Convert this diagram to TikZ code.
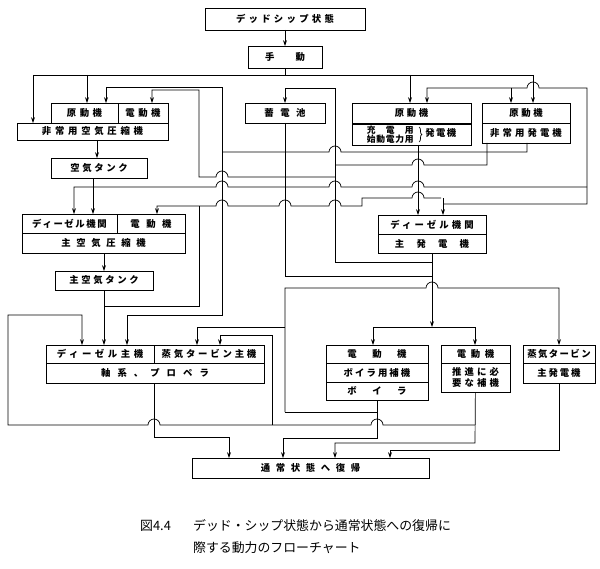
\documentclass[tikz,border=0pt]{standalone}
\usepackage{fontspec}
\setmainfont{Noto Sans CJK JP}
\newfontfamily\boxfont{Noto Sans CJK JP}
\usetikzlibrary{arrows.meta, decorations.pathreplacing}

% box given by its corners, in pixel units of the drawing
\newcommand\cellbox[7][40]{%
  \node[cell, font={\boxfont\bfseries\fontsize{8}{9.6}\selectfont\addfontfeature{LetterSpace=#1}},
    minimum width={(#5-#3)*0.03cm}, minimum height={(#6-#4)*0.03cm}]
    (#2) at ({(#3+#5)/2},{(#4+#6)/2}) {#7};}

\begin{document}
\begin{tikzpicture}[x=0.03cm, y=-0.03cm,
    cell/.style={draw, line width=0.8pt, inner sep=0pt, outer sep=0pt, align=center},
    wire/.style={line width=0.6pt},
    feed/.style={wire, -{Stealth[length=5pt, width=3.4pt]}},
    back/.style={wire, {Stealth[length=5pt, width=3.4pt]}-},
    twoway/.style={wire, {Stealth[length=5pt, width=3.4pt]}-{Stealth[length=5pt, width=3.4pt]}},
    hop/.style={insert path={arc[start angle=180, end angle=0, radius=0.18cm]}}]
  \useasboundingbox (0,0) rectangle (600,568);

  % boxes
  \cellbox[35]{dead}{205}{8}{365}{30}{デッドシップ状態}
  \cellbox[0]{hand}{248}{46}{322}{68}{手\hspace{18pt}動}
  \cellbox[38]{lcpm}{51}{103}{118}{123}{原動機}
  \cellbox[38]{lcem}{118}{103}{168}{123}{電動機}
  \cellbox[40]{lcac}{17}{123}{168}{140}{非常用空気圧縮機}
  \cellbox[28]{tank1}{51}{158}{147}{178}{空気タンク}
  \cellbox[70]{bat}{245}{103}{325}{123}{蓄電池}
  \cellbox[28]{g1pm}{352}{103}{471}{123}{原動機}
  \cellbox[15]{g1gen}{352}{124}{471}{145}{\fontsize{7.5}{7.5}\selectfont\renewcommand\arraystretch{0.5}\begin{tabular}{@{}l@{}}\makebox[40pt][s]{充\hfill 電\hfill 用}\\\makebox[40pt][s]{始\hfill 動\hfill 電\hfill 力\hfill 用}\end{tabular}\hspace{10pt}\fontsize{8}{9}\selectfont 発電機}
  \draw[wire, decorate, decoration={brace, amplitude=2.5pt}] (419,127) -- (419,142);
  \cellbox[28]{g2pm}{482}{103}{570}{123}{原動機}
  \cellbox[33]{g2gen}{482}{123}{570}{143}{非常用発電機}
  \cellbox[17]{mcde}{22}{214}{117}{233}{ディーゼル機関}
  \cellbox[70]{mcem}{117}{214}{185}{233}{電動機}
  \cellbox[60]{mcac}{22}{233}{185}{253}{主空気圧縮機}
  \cellbox[28]{tank2}{55}{271}{153}{290}{主空気タンク}
  \cellbox[33]{dgde}{378}{215}{486}{234}{ディーゼル機関}
  \cellbox[130]{dggen}{378}{234}{486}{253}{主発電機}
  \cellbox[38]{mede}{46}{345}{154}{363}{ディーゼル主機}
  \cellbox[30]{mest}{154}{345}{264}{363}{蒸気タービン主機}
  \cellbox[75]{mesh}{46}{363}{264}{383}{軸系、プロペラ}
  \cellbox[165]{boem}{326}{345}{428}{363}{電動機}
  \cellbox[22]{boaux}{326}{363}{428}{382}{ボイラ用補機}
  \cellbox[165]{boil}{326}{382}{428}{400}{ボイラ}
  \cellbox[50]{paem}{441}{345}{510}{363}{電動機}
  \cellbox[33]{paaux}{441}{363}{510}{392}{推進に必\\要な補機}
  \cellbox[15]{stt}{523}{345}{595}{363}{蒸気タービン}
  \cellbox[20]{stg}{523}{363}{595}{383}{主発電機}
  \cellbox[60]{ret}{192}{458}{429}{478}{通常状態へ復帰}

  % caption
  \node[font=\fontsize{11}{13}\selectfont, anchor=west] (fig) at (136,526) {図4.4};
  \node[font=\fontsize{11}{13}\selectfont, anchor=west] (cap1) at (189,526) {デッド・シップ状態から通常状態への復帰に};
  \node[font=\fontsize{11}{13}\selectfont, anchor=west] (cap2) at (189,548) {際する動力のフローチャート};

  % from the top
  \draw[feed] (dead) -- (hand);
  \draw[wire] (hand) -- (285,75);
  \draw[wire] (33,75) -- (533,75);
  \foreach \x/\y in {33/123, 87/103, 410/103, 533/103}
    \draw[feed] (\x,75) -- (\x,\y);

  % upper wiring
  \draw[twoway] (106,103) -- (106,87) -- (222,87) -- (222,315) -- (127,315) -- (127,345);
  \draw[back] (152,103) -- (152,90) -- (199,90) -- (199,177) -- (216,177) [hop] -- (335,177);
  \draw[feed] (432,262) -- (335,262) -- (335,88) -- (285,88) -- (285,103);
  \draw[wire] (bat) -- (285,152);
  \draw[wire] (222,152) -- (329,152) [hop] -- (527,152) -- (527,143);
  \draw[feed] (418,145) -- (418,215);
  \draw[wire] (335,165) -- (412,165) [hop] -- (487,165) -- (487,143);
  \draw[back] (74,214) -- (74,187) -- (216,187) [hop] -- (329,187) [hop] -- (412,187) [hop] -- (587,187);
  \draw[back] (427,103) -- (427,88) -- (527,88) [hop] -- (587,88) -- (587,204) -- (443,204);
  \draw[feed] (443,198) -- (443,215);
  \draw[feed] (511,88) -- (511,103);
  \draw[back] (157,214) -- (157,206) -- (216,206) [hop] -- (279,206) [hop] -- (329,206) [hop] -- (362,206) -- (362,198) -- (412,198) [hop] -- (441,198);
  \draw[feed] (97,140) -- (97,158);
  \draw[feed] (93,178) -- (93,214);

  % air tanks and main engine
  \draw[feed] (104,253) -- (tank2.north);
  \draw[feed] (tank2) -- (104,345);
  \draw[wire] (104,306) -- (199,306) -- (199,206);
  \draw[wire] (285,152) -- (285,276) -- (432,276);

  % main generator
  \draw[feed] (dggen) -- (432,327);
  \draw[twoway] (373,345) -- (373,327) -- (475,327) -- (475,345);

  % steam
  \draw[feed] (285,412) -- (285,288) -- (426,288) [hop] -- (559,288) -- (559,345);
  \draw[feed] (285,327) -- (197,327) -- (197,345);
  \draw[feed] (boil) -- (377,438) -- (283,438) -- (283,458);
  \draw[wire] (377,412) -- (285,412);

  % propulsion auxiliaries
  \draw[back] (82,345) -- (82,315) -- (8,315) -- (8,425) -- (148,425) [hop] -- (371,425) [hop] -- (475,425);
  \draw[feed] (272,425) -- (272,335) -- (220,335) -- (220,345);
  \draw[feed] (paaux) -- (475,443) -- (335,443) -- (335,458);

  % to normal state
  \draw[feed] (154,383) -- (154,437) -- (229,437) -- (229,458);
  \draw[feed] (stg) -- (559,450) -- (390,450) -- (390,458);
\end{tikzpicture}
\end{document}
